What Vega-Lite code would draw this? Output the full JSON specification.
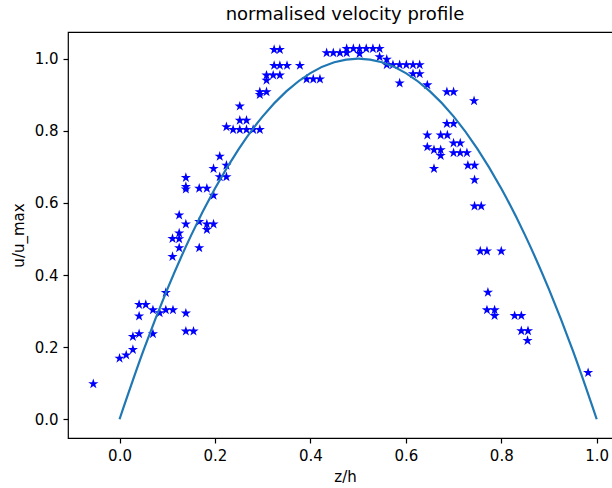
{
  "$schema": "https://vega.github.io/schema/vega-lite/v6.json",
  "autosize": {"type": "none"},
  "padding": {"left": 68, "top": 32, "right": 0, "bottom": 50},
  "width": 554,
  "height": 406,
  "title": {"text": "normalised velocity profile", "font": "DejaVu Sans", "fontSize": 18, "fontWeight": "normal", "color": "#000", "offset": 8, "anchor": "middle"},
  "config": {
    "view": {"stroke": "#000", "strokeWidth": 1.2},
    "axis": {"grid": false, "domain": false, "tickColor": "#000", "tickWidth": 1.2, "tickSize": 5, "labelPadding": 5, "labelFont": "DejaVu Sans", "labelFontSize": 15, "labelColor": "#000", "titleFont": "DejaVu Sans", "titleFontSize": 15, "titleFontWeight": "normal", "titleColor": "#000"}
  },
  "datasets": {
    "pts": [
      {"z": -0.055, "u": 0.098},
      {"z": 0.000, "u": 0.169},
      {"z": 0.014, "u": 0.178},
      {"z": 0.028, "u": 0.193},
      {"z": 0.028, "u": 0.229},
      {"z": 0.041, "u": 0.237},
      {"z": 0.041, "u": 0.286},
      {"z": 0.041, "u": 0.318},
      {"z": 0.055, "u": 0.318},
      {"z": 0.070, "u": 0.303},
      {"z": 0.070, "u": 0.237},
      {"z": 0.084, "u": 0.295},
      {"z": 0.097, "u": 0.351},
      {"z": 0.097, "u": 0.303},
      {"z": 0.112, "u": 0.303},
      {"z": 0.139, "u": 0.294},
      {"z": 0.139, "u": 0.244},
      {"z": 0.155, "u": 0.244},
      {"z": 0.111, "u": 0.451},
      {"z": 0.125, "u": 0.475},
      {"z": 0.111, "u": 0.501},
      {"z": 0.125, "u": 0.500},
      {"z": 0.125, "u": 0.516},
      {"z": 0.125, "u": 0.566},
      {"z": 0.139, "u": 0.541},
      {"z": 0.167, "u": 0.475},
      {"z": 0.167, "u": 0.548},
      {"z": 0.183, "u": 0.541},
      {"z": 0.183, "u": 0.526},
      {"z": 0.197, "u": 0.541},
      {"z": 0.139, "u": 0.670},
      {"z": 0.139, "u": 0.645},
      {"z": 0.139, "u": 0.638},
      {"z": 0.167, "u": 0.640},
      {"z": 0.183, "u": 0.640},
      {"z": 0.197, "u": 0.621},
      {"z": 0.197, "u": 0.695},
      {"z": 0.210, "u": 0.729},
      {"z": 0.224, "u": 0.704},
      {"z": 0.210, "u": 0.672},
      {"z": 0.224, "u": 0.672},
      {"z": 0.224, "u": 0.811},
      {"z": 0.238, "u": 0.803},
      {"z": 0.252, "u": 0.803},
      {"z": 0.266, "u": 0.803},
      {"z": 0.280, "u": 0.803},
      {"z": 0.294, "u": 0.803},
      {"z": 0.252, "u": 0.868},
      {"z": 0.252, "u": 0.829},
      {"z": 0.266, "u": 0.829},
      {"z": 0.294, "u": 0.908},
      {"z": 0.294, "u": 0.900},
      {"z": 0.308, "u": 0.908},
      {"z": 0.308, "u": 0.954},
      {"z": 0.322, "u": 0.954},
      {"z": 0.336, "u": 0.954},
      {"z": 0.308, "u": 0.940},
      {"z": 0.324, "u": 0.981},
      {"z": 0.336, "u": 0.981},
      {"z": 0.351, "u": 0.981},
      {"z": 0.378, "u": 0.981},
      {"z": 0.324, "u": 1.025},
      {"z": 0.336, "u": 1.025},
      {"z": 0.392, "u": 0.943},
      {"z": 0.406, "u": 0.943},
      {"z": 0.420, "u": 0.943},
      {"z": 0.434, "u": 1.016},
      {"z": 0.448, "u": 1.016},
      {"z": 0.462, "u": 1.016},
      {"z": 0.476, "u": 1.016},
      {"z": 0.476, "u": 1.028},
      {"z": 0.490, "u": 1.028},
      {"z": 0.503, "u": 1.028},
      {"z": 0.517, "u": 1.028},
      {"z": 0.531, "u": 1.028},
      {"z": 0.545, "u": 1.028},
      {"z": 0.503, "u": 1.014},
      {"z": 0.545, "u": 1.005},
      {"z": 0.560, "u": 0.998},
      {"z": 0.560, "u": 0.983},
      {"z": 0.573, "u": 0.983},
      {"z": 0.587, "u": 0.983},
      {"z": 0.601, "u": 0.983},
      {"z": 0.615, "u": 0.983},
      {"z": 0.629, "u": 0.983},
      {"z": 0.615, "u": 0.958},
      {"z": 0.629, "u": 0.958},
      {"z": 0.587, "u": 0.932},
      {"z": 0.645, "u": 0.927},
      {"z": 0.686, "u": 0.908},
      {"z": 0.700, "u": 0.908},
      {"z": 0.743, "u": 0.883},
      {"z": 0.686, "u": 0.820},
      {"z": 0.700, "u": 0.820},
      {"z": 0.645, "u": 0.788},
      {"z": 0.673, "u": 0.788},
      {"z": 0.687, "u": 0.788},
      {"z": 0.700, "u": 0.766},
      {"z": 0.714, "u": 0.766},
      {"z": 0.645, "u": 0.755},
      {"z": 0.659, "u": 0.747},
      {"z": 0.673, "u": 0.747},
      {"z": 0.673, "u": 0.731},
      {"z": 0.700, "u": 0.739},
      {"z": 0.714, "u": 0.739},
      {"z": 0.728, "u": 0.739},
      {"z": 0.730, "u": 0.704},
      {"z": 0.744, "u": 0.704},
      {"z": 0.659, "u": 0.695},
      {"z": 0.744, "u": 0.664},
      {"z": 0.744, "u": 0.591},
      {"z": 0.758, "u": 0.591},
      {"z": 0.756, "u": 0.466},
      {"z": 0.770, "u": 0.466},
      {"z": 0.800, "u": 0.466},
      {"z": 0.772, "u": 0.352},
      {"z": 0.770, "u": 0.303},
      {"z": 0.786, "u": 0.303},
      {"z": 0.786, "u": 0.287},
      {"z": 0.828, "u": 0.287},
      {"z": 0.842, "u": 0.287},
      {"z": 0.842, "u": 0.245},
      {"z": 0.856, "u": 0.245},
      {"z": 0.855, "u": 0.218},
      {"z": 0.982, "u": 0.129}
    ],
    "curve": [
      {"z": 0.00, "u": 0.0},
      {"z": 0.05, "u": 0.19},
      {"z": 0.10, "u": 0.36},
      {"z": 0.15, "u": 0.51},
      {"z": 0.20, "u": 0.64},
      {"z": 0.25, "u": 0.75},
      {"z": 0.30, "u": 0.84},
      {"z": 0.35, "u": 0.91},
      {"z": 0.40, "u": 0.96},
      {"z": 0.45, "u": 0.99},
      {"z": 0.50, "u": 1.0},
      {"z": 0.55, "u": 0.99},
      {"z": 0.60, "u": 0.96},
      {"z": 0.65, "u": 0.91},
      {"z": 0.70, "u": 0.84},
      {"z": 0.75, "u": 0.75},
      {"z": 0.80, "u": 0.64},
      {"z": 0.85, "u": 0.51},
      {"z": 0.90, "u": 0.36},
      {"z": 0.95, "u": 0.19},
      {"z": 1.00, "u": 0.0}
    ]
  },
  "layer": [
    {
      "data": {"name": "pts"},
      "mark": {"type": "point", "filled": true, "color": "#0000ff", "opacity": 1, "size": 115, "shape": "M0,-1L0.2245,-0.309L0.951,-0.309L0.363,0.118L0.588,0.809L0,0.382L-0.588,0.809L-0.363,0.118L-0.951,-0.309L-0.2245,-0.309Z"},
      "encoding": {
        "x": {"field": "z", "type": "quantitative", "scale": {"domain": [-0.108, 1.053], "nice": false, "zero": false}, "axis": {"values": [0, 0.2, 0.4, 0.6, 0.8, 1.0], "format": ".1f", "title": "z/h", "titlePadding": 6}},
        "y": {"field": "u", "type": "quantitative", "scale": {"domain": [-0.052, 1.074], "nice": false, "zero": false}, "axis": {"values": [0, 0.2, 0.4, 0.6, 0.8, 1.0], "format": ".1f", "title": "u/u_max", "titlePadding": 8}}
      }
    },
    {
      "data": {"name": "curve"},
      "mark": {"type": "line", "color": "#1f77b4", "strokeWidth": 2.2, "interpolate": "monotone"},
      "encoding": {
        "x": {"field": "z", "type": "quantitative"},
        "y": {"field": "u", "type": "quantitative"}
      }
    }
  ]
}
